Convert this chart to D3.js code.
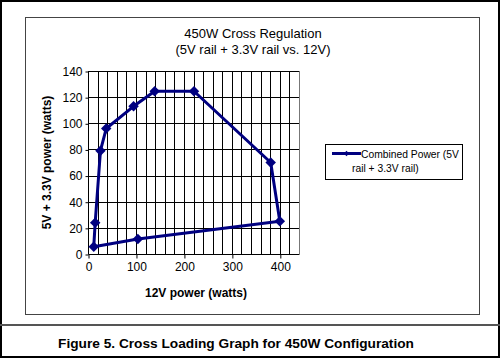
<!DOCTYPE html>
<html>
<head>
<meta charset="utf-8">
<script src="https://cdn.jsdelivr.net/npm/d3@7"></script>
<style>
  html, body { margin: 0; padding: 0; background: #fff; }
  svg { display: block; font-family: "Liberation Sans", Arial, sans-serif; }
</style>
</head>
<body>
<svg id="chart" width="500" height="358"></svg>
<script>
// Data
const twelveV = [12, 15, 26, 38, 95, 139, 221, 381, 400, 104, 12];
const fiveV33 = [5.6, 24, 79, 96, 113, 124.5, 124.5, 70, 25, 11.5, 5.6];
const xTicks = [0, 100, 200, 300, 400];
const yTicks = [0, 20, 40, 60, 80, 100, 120, 140];
const seriesName = ["Combined Power (5V", "rail + 3.3V rail)"];
const titleLines = ["450W Cross Regulation", "(5V rail + 3.3V rail vs. 12V)"];
const caption = "Figure 5. Cross Loading Graph for 450W Configuration";

(function () {
const data = twelveV.map((x, i) => ({ x, y: fiveV33[i] }));

const svg = d3.select("#chart");
const W = 500, H = 358;

// outer border
svg.append("rect").attr("x", 1).attr("y", 1).attr("width", W - 2).attr("height", H - 2)
  .attr("fill", "#fff").attr("stroke", "#000").attr("stroke-width", 2);

// chart frame
svg.append("rect").attr("x", 25.5).attr("y", 17.5).attr("width", 454).attr("height", 297)
  .attr("fill", "#fff").attr("stroke", "#444").attr("stroke-width", 1);

// separator
svg.append("line").attr("x1", 0).attr("x2", W).attr("y1", 325).attr("y2", 325)
  .attr("stroke", "#555").attr("stroke-width", 2);

// caption
svg.append("text").attr("x", 236).attr("y", 348).attr("text-anchor", "middle")
  .attr("font-size", 13.7).attr("font-weight", "bold").attr("fill", "#000").text(caption);

// title
svg.selectAll("text.title").data(titleLines).join("text")
  .attr("class", "title")
  .attr("x", 253).attr("y", (d, i) => 38 + i * 16)
  .attr("text-anchor", "middle").attr("font-size", 13).attr("fill", "#000")
  .text(d => d);

const pL = 88, pR = 299, pT = 71, pB = 254;
const x = d3.scaleLinear().domain([0, 440]).range([pL, pR]);
const y = d3.scaleLinear().domain([0, 140]).range([pB, pT]);

const g = svg.append("g");

// vertical gridlines every 20
const xGrid = d3.range(20, 441, 20);
g.selectAll("line.vg").data(xGrid).join("line")
  .attr("x1", d => Math.round(x(d)) + 0.5).attr("x2", d => Math.round(x(d)) + 0.5)
  .attr("y1", pT).attr("y2", pB)
  .attr("stroke", d => d === 440 ? "#777" : "#000").attr("stroke-width", 1);

// horizontal gridlines
g.selectAll("line.hg").data(yTicks.filter(d => d > 0)).join("line")
  .attr("x1", pL).attr("x2", pR)
  .attr("y1", d => Math.round(y(d)) + 0.5).attr("y2", d => Math.round(y(d)) + 0.5)
  .attr("stroke", "#000").attr("stroke-width", 1);

// axes
const xAxis = d3.axisBottom(x).tickValues(xTicks).tickSize(4).tickPadding(4).tickFormat(d3.format("d"));
const yAxis = d3.axisLeft(y).tickValues(yTicks).tickSize(3).tickPadding(3).tickFormat(d3.format("d"));

const gx = svg.append("g").attr("transform", `translate(0.5,${Math.round(pB) + 0.5})`).call(xAxis);
const gy = svg.append("g").attr("transform", `translate(${pL + 0.5},0.5)`).call(yAxis);
[gx, gy].forEach(a => {
  a.select(".domain").attr("stroke", "#000");
  a.selectAll(".tick line").attr("stroke", "#000");
  a.selectAll(".tick text").attr("font-size", 12).attr("fill", "#000")
    .attr("font-family", "Liberation Sans, Arial, sans-serif");
});
gx.select(".domain").attr("d", `M${pL},0H${pR}`);
gy.select(".domain").attr("d", `M0,${pT}V${pB}`);

// axis titles
svg.append("text").attr("x", 196).attr("y", 297).attr("text-anchor", "middle")
  .attr("font-size", 12).attr("font-weight", "bold").attr("fill", "#000").text("12V power (watts)");
svg.append("text").attr("transform", `translate(51,${(pT + pB) / 2}) rotate(-90)`)
  .attr("text-anchor", "middle").attr("font-size", 12).attr("font-weight", "bold").attr("fill", "#000")
  .text("5V + 3.3V power (watts)");

// series
const navy = "#000080";
const line = d3.line().x(d => x(d.x)).y(d => y(d.y));
svg.append("path").datum(data).attr("d", line).attr("fill", "none")
  .attr("stroke", navy).attr("stroke-width", 3).attr("stroke-linejoin", "round");

svg.selectAll("path.pt").data(data.slice(0, -1)).join("path")
  .attr("class", "pt")
  .attr("d", d3.symbol().type(d3.symbolSquare).size(55))
  .attr("transform", d => `translate(${x(d.x)},${y(d.y)}) rotate(45)`)
  .attr("fill", navy);

// legend
svg.append("rect").attr("x", 325.5).attr("y", 144.5).attr("width", 137).attr("height", 35)
  .attr("fill", "#fff").attr("stroke", "#000").attr("stroke-width", 1);
svg.append("line").attr("x1", 332).attr("x2", 361).attr("y1", 153.5).attr("y2", 153.5)
  .attr("stroke", navy).attr("stroke-width", 3);
svg.append("path").attr("d", d3.symbol().type(d3.symbolSquare).size(14))
  .attr("transform", "translate(346.5,153.5) rotate(45)").attr("fill", navy);
svg.append("text").attr("x", 361).attr("y", 157.5).attr("font-size", 10.3).attr("fill", "#000").text(seriesName[0]);
svg.append("text").attr("x", 352).attr("y", 172).attr("font-size", 10.3).attr("fill", "#000").text(seriesName[1]);
})();
</script>
</body>
</html>
